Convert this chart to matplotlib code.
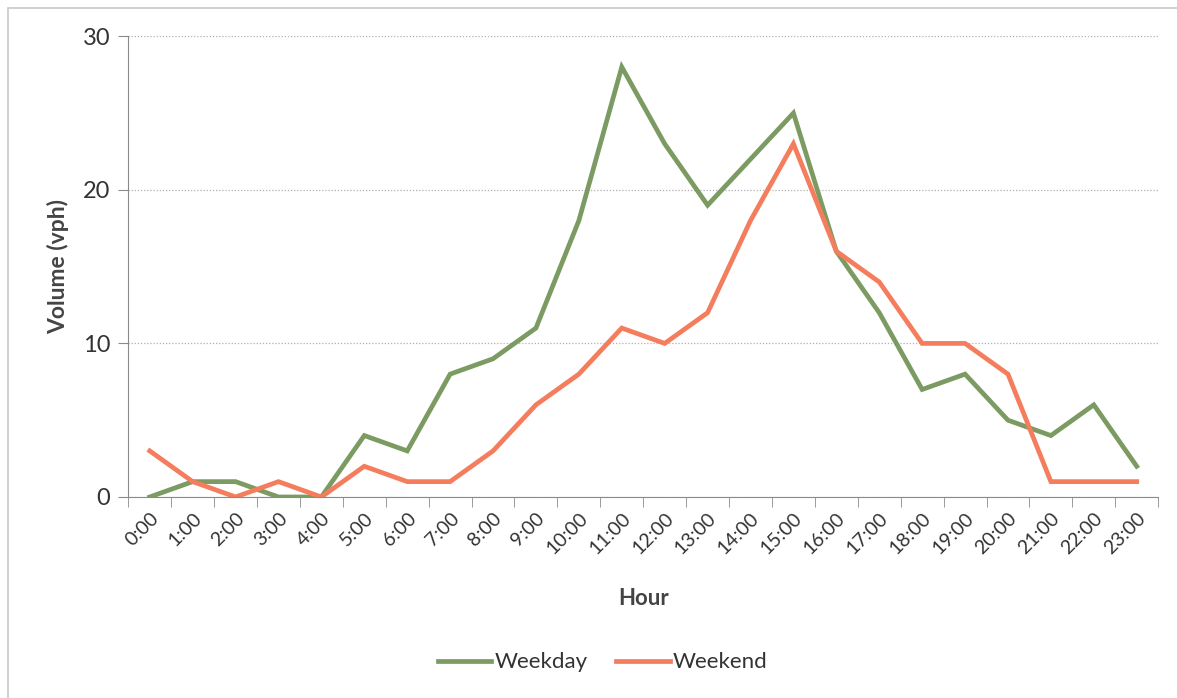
import matplotlib.pyplot as plt
import numpy as np
from matplotlib.patches import Rectangle

hours = ['0:00', '1:00', '2:00', '3:00', '4:00', '5:00', '6:00', '7:00', '8:00', '9:00',
         '10:00', '11:00', '12:00', '13:00', '14:00', '15:00', '16:00', '17:00', '18:00',
         '19:00', '20:00', '21:00', '22:00', '23:00']
weekday = [0, 1, 1, 0, 0, 4, 3, 8, 9, 11, 18, 28, 23, 19, 22, 25, 16, 12, 7, 8, 5, 4, 6, 2]
weekend = [3, 1, 0, 1, 0, 2, 1, 1, 3, 6, 8, 11, 10, 12, 18, 23, 16, 14, 10, 10, 8, 1, 1, 1]

plt.rcParams['font.family'] = ['Lato', 'DejaVu Sans']

fig = plt.figure(figsize=(11.77, 6.98), dpi=100)
ax = fig.add_axes([0.109, 0.288, 0.875, 0.660])

# outer chart border
fig.patches.append(Rectangle((0.007, -0.1), 1.1, 1.088, transform=fig.transFigure,
                             fill=False, edgecolor='#c8c8c8', lw=1.2))

x = np.arange(len(hours))
ax.plot(x, weekday, color='#7b9b62', lw=3.4, label='Weekday', solid_joinstyle='miter')
ax.plot(x, weekend, color='#f47d5d', lw=3.4, label='Weekend', solid_joinstyle='miter')

ax.set_xlim(-0.5, len(hours) - 0.5)
ax.set_ylim(0, 30)
ax.set_yticks([0, 10, 20, 30])
ax.yaxis.grid(True, linestyle=(0, (1, 1.5)), color='#b0b0b0', lw=0.9)
ax.set_axisbelow(True)

ax.set_xticks(x)
ax.set_xticklabels(hours, rotation=45, ha='right', rotation_mode='anchor', fontsize=14,
                   color='#333333')
ax.set_xticks(np.arange(-0.5, len(hours)), minor=True)
ax.tick_params(axis='x', which='major', length=0, pad=9)
ax.tick_params(axis='x', which='minor', length=7, color='#8a8a8a', direction='out')
ax.tick_params(axis='y', length=7, color='#8a8a8a', labelsize=17, labelcolor='#333333', pad=6)

for s in ['top', 'right']:
    ax.spines[s].set_visible(False)
ax.spines['left'].set_color('#8a8a8a')
ax.spines['bottom'].set_color('#8a8a8a')

ax.set_xlabel('Hour', fontsize=16, fontweight='bold', color='#444444', labelpad=22)
ax.set_ylabel('Volume (vph)', fontsize=16.5, fontweight='bold', color='#444444', labelpad=10)

fig.legend(loc='center', bbox_to_anchor=(0.512, 0.051), ncol=2, frameon=False,
           fontsize=16, handlelength=2.4, handletextpad=0.15, columnspacing=1.3,
           labelcolor='#333333')

fig.savefig('out.png', dpi=100)
